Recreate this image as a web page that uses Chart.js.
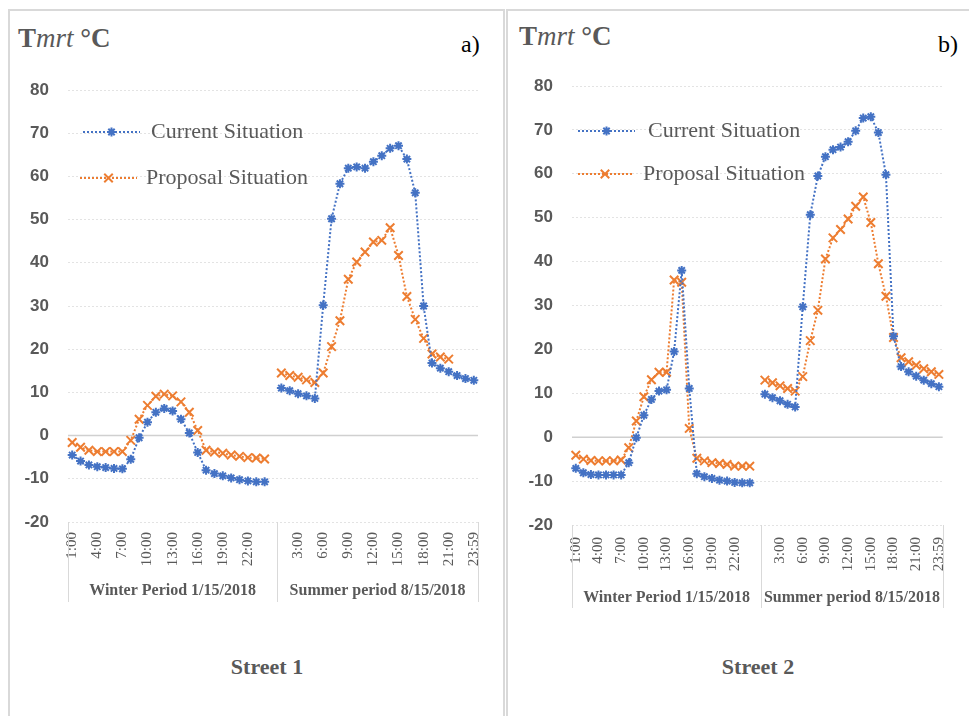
<!DOCTYPE html>
<html>
<head>
<meta charset="UTF-8">
<title>Tmrt - Street 1 and Street 2</title>
<script src="https://cdn.jsdelivr.net/npm/chart.js"></script>
<style>
  body { margin: 0; width: 969px; height: 716px; overflow: hidden; position: relative; background: #fff; font-family: "Liberation Serif", serif; }
  .frame { position: absolute; border: 2px solid #d9d9d9; box-sizing: border-box; }
  canvas { position: absolute; }
  .ttl { position: absolute; font-size: 27px; line-height: 1; color: #595959; font-weight: bold; white-space: nowrap; }
  .ttl i { font-weight: normal; }
  .tag { position: absolute; font-size: 24px; line-height: 1; color: #000; white-space: nowrap; }
  .street { position: absolute; font-size: 22px; line-height: 1; color: #595959; font-weight: bold; white-space: nowrap; transform: translateX(-50%); }
</style>
</head>
<body>
<div class="frame" style="left:8px;top:9px;width:497px;height:730px"></div>
<div class="frame" style="left:506px;top:9px;width:490px;height:730px"></div>

<div class="ttl" style="left:18px;top:25px">T<i>mrt</i> °C</div>
<div class="ttl" style="left:519px;top:23px">T<i>mrt</i> °C</div>
<div class="tag" style="left:461px;top:32px">a)</div>
<div class="tag" style="left:938px;top:32px">b)</div>
<div class="street" style="left:267px;top:656px">Street 1</div>
<div class="street" style="left:758px;top:656px">Street 2</div>

<canvas id="street1" width="492" height="704" style="left:10px;top:12px"></canvas>
<canvas id="street2" width="460" height="704" style="left:509px;top:12px"></canvas>

<script>
// categories
var winterHours = ['1:00','2:00','3:00','4:00','5:00','6:00','7:00','8:00','9:00','10:00','11:00','12:00',
                   '13:00','14:00','15:00','16:00','17:00','18:00','19:00','20:00','21:00','22:00','23:00','24:00'];
var summerHours = ['1:00','2:00','3:00','4:00','5:00','6:00','7:00','8:00','9:00','10:00','11:00','12:00',
                   '13:00','14:00','15:00','16:00','17:00','18:00','19:00','20:00','21:00','22:00','23:00','23:59'];
var groupNames = ['Winter Period 1/15/2018', 'Summer period 8/15/2018'];
var seriesNames = ['Current Situation', 'Proposal Situation'];
var yTicks = { min: -20, max: 80, step: 10 };

// Street 1 (a)
var s1CurrentWinter  = [-4.5,-5.9,-6.8,-7.2,-7.4,-7.6,-7.7,-5.5,-0.5,3.1,5.4,6.3,5.7,3.8,0.6,-3.9,-8.0,-8.8,-9.3,-9.8,-10.2,-10.5,-10.7,-10.7];
var s1ProposalWinter = [-1.6,-2.7,-3.4,-3.7,-3.7,-3.7,-3.7,-1.1,3.8,7.0,9.1,9.6,9.2,7.8,5.4,1.2,-3.4,-3.8,-4.1,-4.5,-4.8,-5.1,-5.2,-5.4];
var s1CurrentSummer  = [11.0,10.4,9.7,9.2,8.6,30.2,50.2,58.3,61.9,62.2,61.9,63.4,64.8,66.5,67.1,64.0,56.2,30.0,16.8,15.6,14.8,13.9,13.2,12.8];
var s1ProposalSummer = [14.5,13.9,13.5,12.9,12.3,14.5,20.6,26.6,36.2,40.2,42.5,44.8,45.2,48.1,41.7,32.2,26.9,22.5,18.9,18.2,17.7,null,null,null];

// Street 2 (b)
var s2CurrentWinter  = [-7.1,-8.1,-8.5,-8.6,-8.6,-8.6,-8.6,-5.8,-0.1,5.0,8.6,10.5,10.8,19.5,38.0,11.1,-8.3,-9.0,-9.4,-9.8,-10.0,-10.3,-10.4,-10.4];
var s2ProposalWinter = [-4.1,-5.0,-5.3,-5.4,-5.4,-5.4,-5.2,-2.4,3.7,9.2,13.1,14.8,14.8,35.8,35.3,2.0,-4.8,-5.4,-5.8,-6.0,-6.2,-6.6,-6.6,-6.6];
var s2CurrentSummer  = [9.8,9.0,8.3,7.5,6.9,29.7,50.7,59.5,63.9,65.5,66.1,67.3,69.8,72.7,73.0,69.4,59.8,23.0,16.1,14.9,13.9,13.0,12.2,11.5];
var s2ProposalSummer = [13.0,12.4,11.7,11.1,10.5,13.8,22.0,28.9,40.6,45.4,47.3,49.7,52.6,54.7,48.9,39.5,32.1,22.7,18.1,17.2,16.4,15.6,14.9,14.3];

var categories = winterHours.concat([''], summerHours);
var summerStart = winterHours.length + 1;

var BLUE = '#4472C4', ORANGE = '#ED7D31', GREY = '#595959';

function joinPeriods(w, s) { return w.concat([null], s); }

function drawMarker(ctx, style, x, y, r) {
  ctx.beginPath();
  var d = r * Math.SQRT1_2;
  ctx.moveTo(x - d, y - d); ctx.lineTo(x + d, y + d);
  ctx.moveTo(x + d, y - d); ctx.lineTo(x - d, y + d);
  if (style === 'star') {
    ctx.moveTo(x, y - r); ctx.lineTo(x, y + r);
    ctx.moveTo(x - r, y); ctx.lineTo(x + r, y);
  }
  ctx.stroke();
}

// zero line, group separators, group labels and legend
var extras = {
  id: 'extras',
  beforeDatasetsDraw: function(chart) {
    var ctx = chart.ctx, area = chart.chartArea;
    var y0 = chart.scales.y.getPixelForValue(0);
    ctx.save();
    ctx.strokeStyle = '#d0d0d0';
    ctx.lineWidth = 1.5;
    ctx.beginPath();
    ctx.moveTo(area.left, y0);
    ctx.lineTo(area.right, y0);
    ctx.stroke();
    ctx.restore();
  },
  afterDraw: function(chart, args, opts) {
    var ctx = chart.ctx, area = chart.chartArea, xs = chart.scales.x;
    var half = (xs.getPixelForValue(1) - xs.getPixelForValue(0)) / 2;
    var edges = [
      xs.getPixelForValue(0) - half,
      xs.getPixelForValue(summerStart) - half,
      xs.getPixelForValue(categories.length - 1) + half
    ];
    ctx.save();
    ctx.strokeStyle = '#d9d9d9';
    ctx.lineWidth = 1;
    edges.forEach(function(e) {
      ctx.beginPath();
      ctx.moveTo(Math.round(e) + 0.5, area.bottom);
      ctx.lineTo(Math.round(e) + 0.5, area.bottom + opts.sepLen);
      ctx.stroke();
    });
    ctx.fillStyle = GREY;
    ctx.font = 'bold 16px "Liberation Serif"';
    ctx.textAlign = 'center';
    ctx.textBaseline = 'middle';
    ctx.fillText(groupNames[0], (edges[0] + edges[1]) / 2, area.bottom + opts.groupY);
    ctx.fillText(groupNames[1], (edges[1] + edges[2]) / 2, area.bottom + opts.groupY);

    // legend
    chart.data.datasets.forEach(function(ds, i) {
      var L = opts.legend[i];
      ctx.strokeStyle = ds.borderColor;
      ctx.lineWidth = 2;
      ctx.setLineDash([2, 2]);
      ctx.beginPath();
      ctx.moveTo(L.x1, L.y);
      ctx.lineTo(L.x2, L.y);
      ctx.stroke();
      ctx.setLineDash([]);
      drawMarker(ctx, ds.pointStyle, (L.x1 + L.x2) / 2, L.y, ds.pointRadius);
      ctx.fillStyle = GREY;
      ctx.font = '22px "Liberation Serif"';
      ctx.textAlign = 'left';
      ctx.fillText(ds.label, L.tx, L.y);
    });
    ctx.restore();
  }
};

function makeChart(id, current, proposal, lay) {
  var ctx = document.getElementById(id).getContext('2d');
  return new Chart(ctx, {
    type: 'line',
    data: {
      labels: categories,
      datasets: [{
        label: seriesNames[0],
        data: current,
        borderColor: BLUE,
        backgroundColor: BLUE,
        borderWidth: 2,
        borderDash: [2, 2],
        pointStyle: 'star',
        pointRadius: 4.5,
        pointBorderWidth: 2,
        pointBorderColor: BLUE,
        spanGaps: false,
        tension: 0
      }, {
        label: seriesNames[1],
        data: proposal,
        borderColor: ORANGE,
        backgroundColor: ORANGE,
        borderWidth: 2,
        borderDash: [2, 2],
        pointStyle: 'crossRot',
        pointRadius: 6,
        pointBorderWidth: 2,
        pointBorderColor: ORANGE,
        spanGaps: false,
        tension: 0
      }]
    },
    options: {
      responsive: false,
      animation: false,
      devicePixelRatio: 1,
      layout: { padding: { left: 0, right: lay.right, top: lay.top, bottom: 0 } },
      scales: {
        x: {
          type: 'category',
          offset: true,
          grid: { display: false, drawTicks: false },
          border: { display: false },
          ticks: {
            autoSkip: false,
            minRotation: 90,
            maxRotation: 90,
            padding: lay.tickPad,
            color: GREY,
            font: { family: 'Liberation Serif', size: 15 },
            callback: function(value, index) {
              return index % 3 === 0 ? this.getLabelForValue(value) : '';
            }
          },
          afterFit: function(scale) { scale.height = lay.xHeight; }
        },
        y: {
          min: yTicks.min,
          max: yTicks.max,
          grid: { color: '#e3e3e3', lineWidth: 1, drawTicks: false },
          border: { display: false, dash: [2, 2] },
          ticks: {
            stepSize: yTicks.step,
            padding: 19,
            color: GREY,
            font: { family: 'Liberation Sans', size: 17, weight: 'bold' }
          },
          afterFit: function(scale) { scale.width = lay.yWidth; }
        }
      },
      plugins: {
        legend: { display: false },
        tooltip: { enabled: false },
        extras: { sepLen: lay.sepLen, groupY: lay.groupY, legend: lay.legend }
      }
    },
    plugins: [extras]
  });
}

makeChart('street1',
  joinPeriods(s1CurrentWinter, s1CurrentSummer),
  joinPeriods(s1ProposalWinter, s1ProposalSummer),
  { right: 19, top: 78, xHeight: 194, yWidth: 58, tickPad: 10, sepLen: 80, groupY: 69,
    legend: [{ x1: 73, x2: 130, y: 120, tx: 141 }, { x1: 70, x2: 127, y: 166, tx: 136 }] });

makeChart('street2',
  joinPeriods(s2CurrentWinter, s2CurrentSummer),
  joinPeriods(s2ProposalWinter, s2ProposalSummer),
  { right: 11, top: 74, xHeight: 191, yWidth: 63, tickPad: 12, sepLen: 83, groupY: 73,
    legend: [{ x1: 69, x2: 126, y: 119, tx: 139 }, { x1: 69, x2: 123, y: 162, tx: 134 }] });
</script>
</body>
</html>
